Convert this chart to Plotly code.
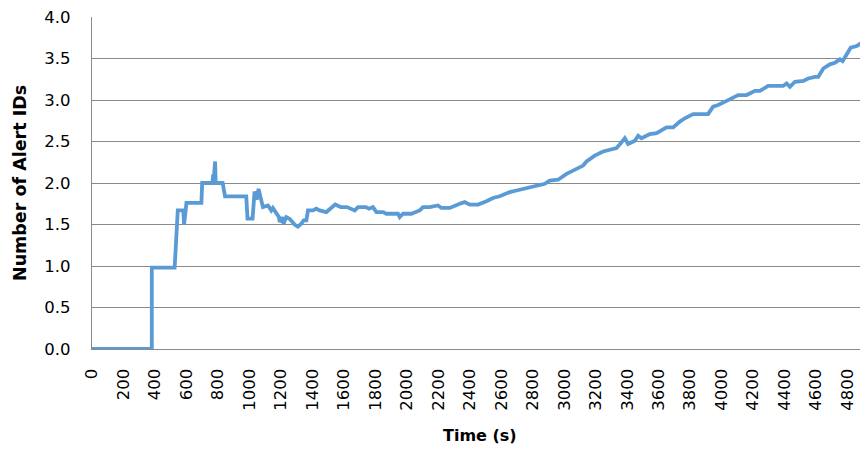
import plotly.graph_objects as go

# Time (s) and number of alert IDs
time_s = [0, 380, 380, 525, 545, 580, 585, 600, 695, 700, 765, 770, 772, 776, 782, 786,
          830, 845, 980, 988, 1020, 1033, 1046, 1058, 1086, 1118, 1139, 1149, 1171, 1187,
          1192, 1209, 1217, 1234, 1255, 1287, 1308, 1330, 1345, 1362, 1372, 1404, 1425,
          1446, 1489, 1531, 1545, 1580, 1620, 1669, 1690, 1740, 1760, 1785, 1807, 1849,
          1870, 1944, 1955, 1976, 2029, 2082, 2103, 2145, 2198, 2220, 2273, 2336, 2368,
          2400, 2453, 2506, 2548, 2590, 2654, 2697, 2739, 2802, 2877, 2908, 2961, 3015,
          3078, 3120, 3142, 3194, 3247, 3301, 3332, 3364, 3385, 3406, 3449, 3470, 3491,
          3544, 3587, 3650, 3692, 3735, 3766, 3819, 3914, 3946, 3978, 4032, 4105, 4159,
          4212, 4243, 4296, 4391, 4413, 4434, 4466, 4519, 4550, 4593, 4614, 4646, 4688,
          4720, 4752, 4769, 4794, 4820, 4858, 4890, 4930]
alert_ids = [0, 0, 0.98, 0.98, 1.67, 1.67, 1.50, 1.76, 1.76, 2.00, 2.00, 2.10, 2.00, 2.26, 2.26, 2.00,
             2.00, 1.84, 1.84, 1.57, 1.57, 1.90, 1.80, 1.93, 1.71, 1.73, 1.67, 1.70, 1.63, 1.59,
             1.53, 1.59, 1.51, 1.59, 1.57, 1.50, 1.475, 1.51, 1.55, 1.55, 1.67, 1.67, 1.69,
             1.67, 1.65, 1.71, 1.74, 1.71, 1.71, 1.67, 1.71, 1.71, 1.69, 1.71, 1.65, 1.65,
             1.63, 1.63, 1.59, 1.63, 1.63, 1.67, 1.71, 1.71, 1.73, 1.70, 1.70, 1.75, 1.77,
             1.74, 1.74, 1.78, 1.82, 1.84, 1.89, 1.91, 1.93, 1.96, 1.99, 2.03, 2.04, 2.11,
             2.17, 2.21, 2.26, 2.33, 2.38, 2.41, 2.42, 2.49, 2.54, 2.47, 2.51, 2.57, 2.54,
             2.59, 2.60, 2.67, 2.67, 2.74, 2.78, 2.83, 2.83, 2.92, 2.94, 2.99, 3.06, 3.06,
             3.11, 3.11, 3.17, 3.17, 3.20, 3.16, 3.22, 3.23, 3.26, 3.28, 3.28, 3.38, 3.43,
             3.45, 3.49, 3.47, 3.54, 3.63, 3.65, 3.69, 3.70]

x_ticks = list(range(0, 4801, 200))
y_ticks = [0, 0.5, 1.0, 1.5, 2.0, 2.5, 3.0, 3.5, 4.0]

FONT = "DejaVu Sans"
GRID = "#8a8a8a"

fig = go.Figure()
fig.add_trace(go.Scatter(
    x=time_s, y=alert_ids, mode="lines",
    line=dict(color="#5B9BD5", width=3.8),
    cliponaxis=False, showlegend=False,
))

# the page body adds an 8px offset, so the figure is sized to fit the window
fig.update_layout(
    width=860, height=443,
    margin=dict(l=84, r=0, t=7, b=102),
    paper_bgcolor="white", plot_bgcolor="white",
    font=dict(family=FONT, size=16, color="#000000"),
    xaxis=dict(
        range=[0, 4930], tickvals=x_ticks, ticktext=[str(v) for v in x_ticks],
        tickangle=-90, showgrid=False, zeroline=False,
        showline=True, linecolor=GRID, linewidth=1.3,
        ticks="", ticklabelstandoff=12, ticklabeloverflow="allow",
        tickfont=dict(family=FONT, size=16.5, color="#000000"),
    ),
    yaxis=dict(
        range=[0, 4.0005], tickvals=y_ticks, ticktext=[f"{v:.1f}" for v in y_ticks],
        showgrid=True, gridcolor=GRID, gridwidth=1.3, zeroline=False,
        showline=True, linecolor=GRID, linewidth=1.3,
        ticks="", ticklabelstandoff=17, ticklabeloverflow="allow",
        tickfont=dict(family=FONT, size=16.5, color="#000000"),
    ),
    annotations=[
        dict(text="<b>Number of Alert IDs</b>", xref="paper", yref="paper",
             x=0, y=0.5, xanchor="center", yanchor="middle", xshift=-72,
             textangle=-90, showarrow=False,
             font=dict(family=FONT, size=17.5, color="#000000")),
        dict(text="<b>Time (s)</b>", xref="paper", yref="paper",
             x=0.5, y=0, xanchor="center", yanchor="middle", yshift=-86,
             showarrow=False,
             font=dict(family=FONT, size=16, color="#000000")),
    ],
)

fig.write_html("out.html")
